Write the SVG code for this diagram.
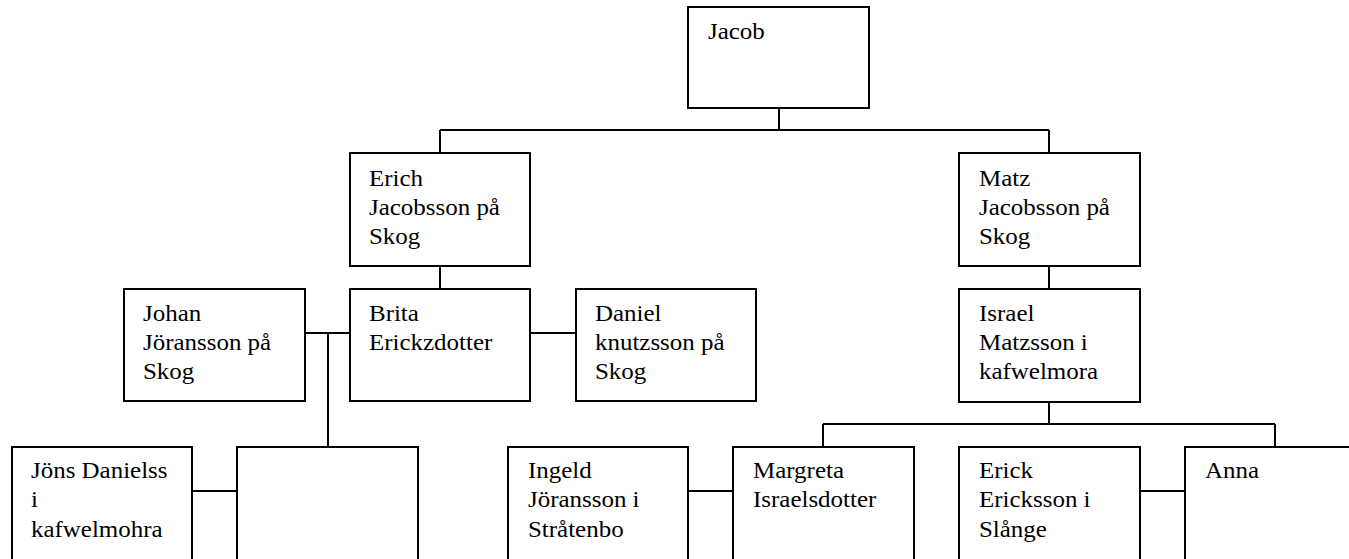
<svg xmlns="http://www.w3.org/2000/svg" width="1349" height="559" viewBox="0 0 1349 559">
<style>
.box{fill:#fff;stroke:#000;stroke-width:2}
.ln{fill:none;stroke:#000;stroke-width:2}
.t{font-family:"Liberation Serif","Times New Roman",serif;font-size:24px;fill:#000}
</style>
<rect width="1349" height="559" fill="#fff"/>
<g id="connectors">
<path class="ln" d="M779 108V130M440 130H1049M440 130V153M1049 130V153"/>
<path class="ln" d="M440 266V289M1049 266V289"/>
<path class="ln" d="M305 333H350M328 333V447M530 333H576"/>
<path class="ln" d="M1049 402V424M823 424H1275M823 424V447M1275 424V447"/>
<path class="ln" d="M192 491H237M688 491H733M1140 491H1185"/>
</g>
<g id="jacob"><rect class="box" x="688" y="7" width="181" height="101"/>
<text class="t" transform="translate(708 39) scale(1.04 1)">Jacob</text></g>
<g id="erich"><rect class="box" x="350" y="153" width="180" height="113"/>
<text class="t" transform="translate(369 186) scale(1.04 1)"><tspan x="0" y="0">Erich</tspan><tspan x="0" y="29">Jacobsson på</tspan><tspan x="0" y="58">Skog</tspan></text></g>
<g id="matz"><rect class="box" x="959" y="153" width="181" height="113"/>
<text class="t" transform="translate(979 186) scale(1.04 1)"><tspan x="0" y="0">Matz</tspan><tspan x="0" y="29">Jacobsson på</tspan><tspan x="0" y="58">Skog</tspan></text></g>
<g id="johan"><rect class="box" x="124" y="289" width="181" height="112"/>
<text class="t" transform="translate(143 321) scale(1.04 1)"><tspan x="0" y="0">Johan</tspan><tspan x="0" y="29">Jöransson på</tspan><tspan x="0" y="58">Skog</tspan></text></g>
<g id="brita"><rect class="box" x="350" y="289" width="180" height="112"/>
<text class="t" transform="translate(369 321) scale(1.04 1)"><tspan x="0" y="0">Brita</tspan><tspan x="0" y="29">Erickzdotter</tspan></text></g>
<g id="daniel"><rect class="box" x="576" y="289" width="180" height="112"/>
<text class="t" transform="translate(595 321) scale(1.04 1)"><tspan x="0" y="0">Daniel</tspan><tspan x="0" y="29">knutzsson på</tspan><tspan x="0" y="58">Skog</tspan></text></g>
<g id="israel"><rect class="box" x="959" y="289" width="181" height="113"/>
<text class="t" transform="translate(979 321) scale(1.04 1)"><tspan x="0" y="0">Israel</tspan><tspan x="0" y="29">Matzsson i</tspan><tspan x="0" y="58">kafwelmora</tspan></text></g>
<g id="jons"><rect class="box" x="12" y="447" width="180" height="130"/>
<text class="t" transform="translate(31 478) scale(1.04 1)"><tspan x="0" y="0">Jöns Danielss</tspan><tspan x="0" y="29">i</tspan><tspan x="0" y="59">kafwelmohra</tspan></text></g>
<g id="empty"><rect class="box" x="237" y="447" width="181" height="130"/></g>
<g id="ingeld"><rect class="box" x="508" y="447" width="180" height="130"/>
<text class="t" transform="translate(528 478) scale(1.04 1)"><tspan x="0" y="0">Ingeld</tspan><tspan x="0" y="29">Jöransson i</tspan><tspan x="0" y="59">Stråtenbo</tspan></text></g>
<g id="margreta"><rect class="box" x="733" y="447" width="181" height="130"/>
<text class="t" transform="translate(753 478) scale(1.04 1)"><tspan x="0" y="0">Margreta</tspan><tspan x="0" y="29">Israelsdotter</tspan></text></g>
<g id="erick"><rect class="box" x="959" y="447" width="181" height="130"/>
<text class="t" transform="translate(979 478) scale(1.04 1)"><tspan x="0" y="0">Erick</tspan><tspan x="0" y="29">Ericksson i</tspan><tspan x="0" y="59">Slånge</tspan></text></g>
<g id="anna"><rect class="box" x="1185" y="447" width="200" height="130"/>
<text class="t" transform="translate(1205 478) scale(1.04 1)">Anna</text></g>
</svg>
